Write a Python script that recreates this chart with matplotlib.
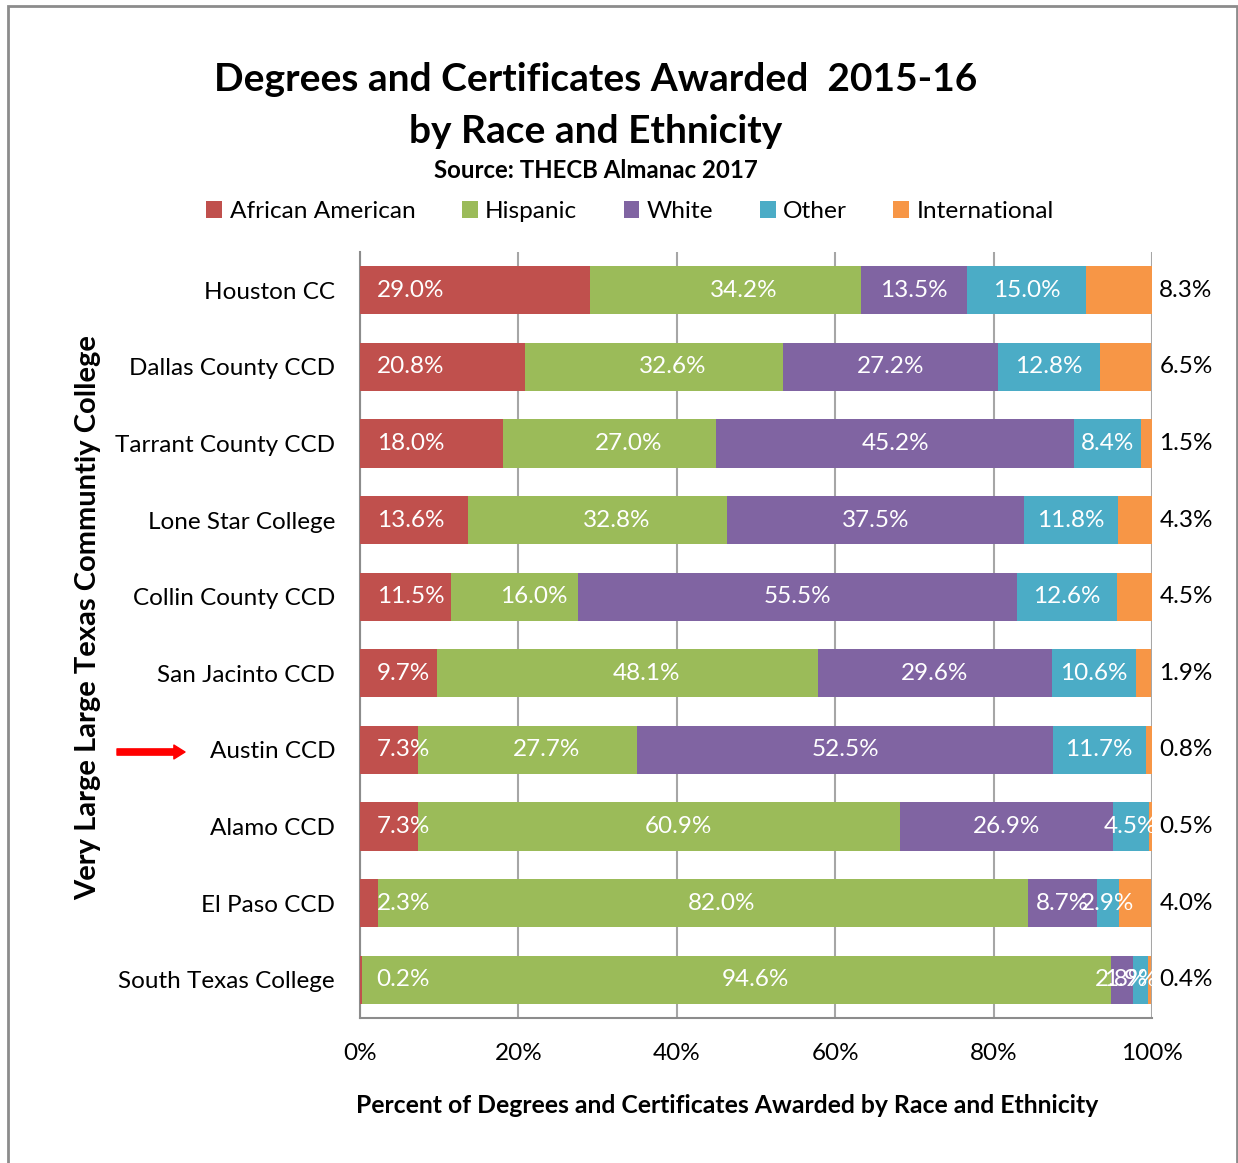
import matplotlib.pyplot as plt
from matplotlib.patches import Rectangle
import numpy as np

plt.rcParams['font.family'] = ['Lato', 'DejaVu Sans']

colleges = ["Houston CC", "Dallas County CCD", "Tarrant County CCD", "Lone Star College",
            "Collin County CCD", "San Jacinto CCD", "Austin CCD", "Alamo CCD",
            "El Paso CCD", "South Texas College"]
groups = ["African American", "Hispanic", "White", "Other", "International"]
colors = ["#C0504D", "#9BBB59", "#8064A2", "#4BACC6", "#F79646"]

african_american = [29.0, 20.8, 18.0, 13.6, 11.5, 9.7, 7.3, 7.3, 2.3, 0.2]
hispanic = [34.2, 32.6, 27.0, 32.8, 16.0, 48.1, 27.7, 60.9, 82.0, 94.6]
white = [13.5, 27.2, 45.2, 37.5, 55.5, 29.6, 52.5, 26.9, 8.7, 2.8]
other = [15.0, 12.8, 8.4, 11.8, 12.6, 10.6, 11.7, 4.5, 2.9, 1.9]
international = [8.3, 6.5, 1.5, 4.3, 4.5, 1.9, 0.8, 0.5, 4.0, 0.4]

series = [african_american, hispanic, white, other, international]
xticks = [0, 20, 40, 60, 80, 100]

fig = plt.figure(figsize=(12.38, 11.63), dpi=100)
ax = fig.add_axes([0.2908, 0.1247, 0.6397, 0.6586])

y = np.arange(len(colleges))
left = np.zeros(len(colleges))
for name, vals, col in zip(groups, series, colors):
    vals = np.array(vals)
    ax.barh(y, vals, left=left, height=0.63, color=col, label=name, zorder=3)
    for i, v in enumerate(vals):
        lab = f"{v:.1f}%"
        if name == "African American":
            ax.text(2.1, i, lab, ha='left', va='center', color='white', fontsize=17.5, zorder=4)
        elif name == "International":
            ax.text(104.3, i, lab, ha='center', va='center', color='black', fontsize=17.5,
                    clip_on=False)
        elif name == "Hispanic":
            ax.text(left[i] + v / 2 + 2.4, i, lab, ha='center', va='center', color='white',
                    fontsize=17.5, zorder=4)
        else:
            # keep small end labels inside the plot like Excel does
            xc = min(left[i] + v / 2, 97.3)
            ax.text(xc, i, lab, ha='center', va='center', color='white',
                    fontsize=17.5, zorder=4)
    left += vals

ax.set_xlim(0, 100)
ax.set_ylim(len(colleges) - 0.5, -0.5)
ax.set_yticks(y)
ax.set_yticklabels(colleges, fontsize=17.5)
ax.set_xticks(xticks)
ax.set_xticklabels([f"{t}%" for t in xticks], fontsize=17.5)
ax.tick_params(length=0, pad=18, axis='y')
ax.tick_params(length=0, pad=18, axis='x')
ax.grid(axis='x', color='#A6A6A6', linewidth=1.5, zorder=0)
for s in ['top', 'right']:
    ax.spines[s].set_visible(False)
for s in ['left', 'bottom']:
    ax.spines[s].set_color('#8C8C8C')
    ax.spines[s].set_linewidth(1.5)

ax.set_xlabel("Percent of Degrees and Certificates Awarded by Race and Ethnicity",
              fontsize=17.8, fontweight='bold')
ax.xaxis.set_label_coords(0.463, -0.099)
fig.text(0.071, 0.469, "Very Large Large Texas Communtiy College", rotation=90,
         fontsize=21, fontweight='bold', ha='center', va='center')

fig.text(0.481, 0.932, "Degrees and Certificates Awarded  2015-16", fontsize=28,
         fontweight='bold', ha='center', va='center')
fig.text(0.481, 0.887, "by Race and Ethnicity", fontsize=28,
         fontweight='bold', ha='center', va='center')
fig.text(0.481, 0.853, "Source: THECB Almanac 2017", fontsize=17.3,
         fontweight='bold', ha='center', va='center')

fig.legend(loc='center', bbox_to_anchor=(0.509, 0.818), ncol=5, frameon=False,
           fontsize=17.6, handlelength=0.65, handleheight=0.65, handletextpad=0.3,
           columnspacing=1.9)

ax.annotate('', xy=(185, 411), xytext=(117, 411), xycoords='figure pixels',
            arrowprops=dict(arrowstyle='simple,head_length=0.8,head_width=1.0,tail_width=0.45',
                            color='red', shrinkA=0, shrinkB=0), annotation_clip=False)

fig.patches.append(Rectangle((8 / 1238, -0.05), (1237 - 8) / 1238, 1.05 - 6 / 1163,
                             transform=fig.transFigure, fill=False,
                             edgecolor='#8C8C8C', linewidth=2))

fig.savefig("out.png", dpi=100, facecolor='white')
